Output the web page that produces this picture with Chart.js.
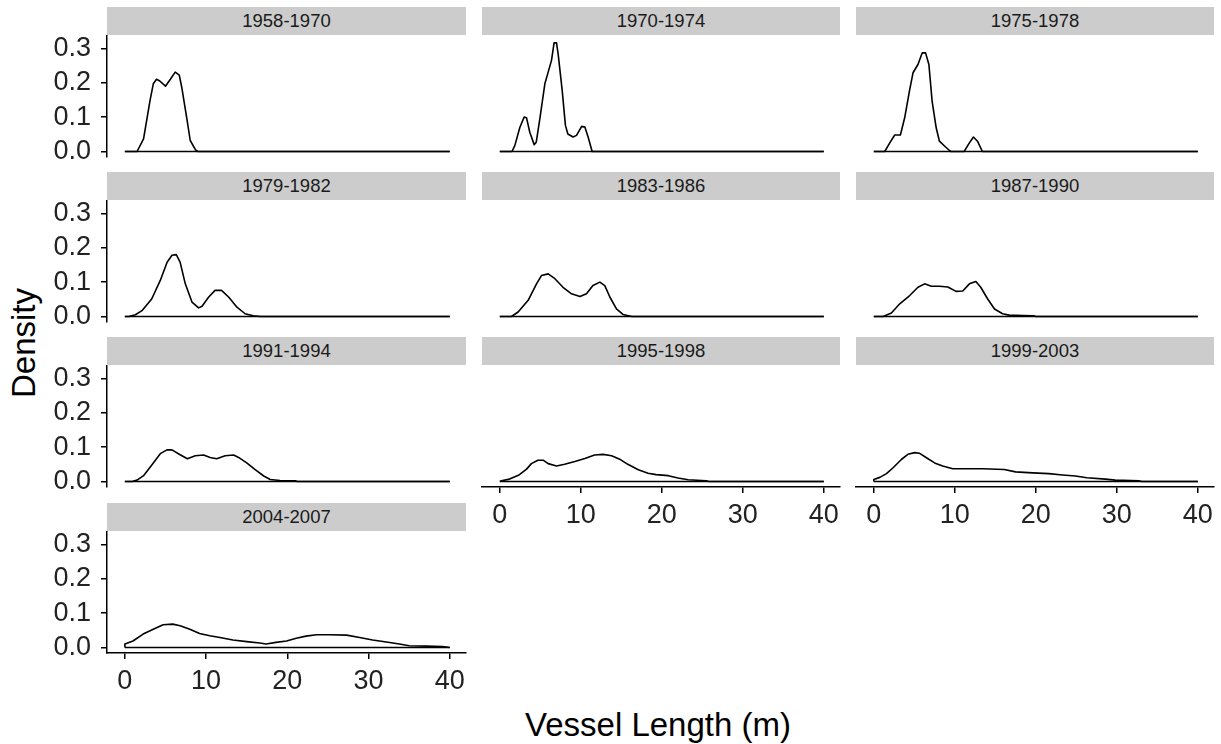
<!DOCTYPE html>
<html><head><meta charset="utf-8">
<script src="https://cdn.jsdelivr.net/npm/chart.js@4.4.1/dist/chart.umd.min.js"></script>
<style>
html,body{margin:0;padding:0;background:#fff;}
body{width:1221px;height:744px;position:relative;overflow:hidden;font-family:"Liberation Sans",Arial,sans-serif;}
.strip{position:absolute;background:#CCCCCC;color:#1A1A1A;font-size:18.5px;text-align:center;white-space:nowrap;}
canvas{position:absolute;}
.xtitle{position:absolute;left:458px;top:708px;width:400px;height:33px;line-height:33px;font-size:33px;text-align:center;color:#000;}
.ytitle{position:absolute;left:-76px;top:323px;width:200px;height:40px;line-height:40px;font-size:33px;text-align:center;color:#000;transform:rotate(-90deg);}
</style></head><body>
<div class="xtitle">Vessel Length (m)</div>
<div class="ytitle">Density</div>
<script>
// ---- data ----
const periods = ["1958-1970","1970-1974","1975-1978","1979-1982","1983-1986","1987-1990","1991-1994","1995-1998","1999-2003","2004-2007"];
const xTicks = [0, 10, 20, 30, 40];
const yTicks = [0.0, 0.1, 0.2, 0.3];
const baselineX = [0, 40];

const len_1958_1970 = [0,1.5,2.3,3.1,3.5,3.9,4.3,5.0,5.6,6.2,6.7,7.0,7.6,8.05,8.7,9.0,40];
const dens_1958_1970 = [0,0,0.037,0.149,0.197,0.21,0.205,0.19,0.21,0.231,0.222,0.187,0.10,0.032,0.005,0,0];

const len_1970_1974 = [0,1.5,1.85,2.47,3.0,3.3,3.7,4.24,4.5,4.94,5.56,5.97,6.38,6.7,7.0,7.2,7.7,8.1,8.4,9.05,9.47,10.1,10.5,10.9,11.4,40];
const dens_1970_1974 = [0,0,0.017,0.07,0.10,0.098,0.056,0.02,0.027,0.095,0.197,0.231,0.265,0.316,0.316,0.284,0.178,0.076,0.051,0.042,0.047,0.073,0.071,0.042,0,0];

const len_1975_1978 = [0,1.35,1.97,2.58,3.28,3.81,4.43,4.84,5.45,5.98,6.39,6.8,7.2,7.7,8.1,8.73,9.34,9.5,11.15,11.8,12.3,12.8,13.4,40];
const dens_1975_1978 = [0,0,0.025,0.048,0.048,0.098,0.18,0.229,0.253,0.287,0.287,0.253,0.146,0.069,0.03,0.016,0.003,0,0,0.025,0.042,0.03,0,0];

const len_1979_1982 = [0,0.5,1.3,2.1,3.3,4.36,5.2,5.8,6.33,6.8,7.44,8.26,9.08,9.5,10.3,11.1,11.9,12.8,13.8,14.8,15.8,16.7,40];
const dens_1979_1982 = [0,0,0.005,0.017,0.051,0.105,0.158,0.178,0.18,0.158,0.095,0.042,0.025,0.03,0.056,0.076,0.076,0.056,0.027,0.008,0.002,0,0];

const len_1983_1986 = [0,1.44,2.26,3.5,4.53,5.14,5.97,6.8,7.8,8.85,9.9,10.7,11.5,12.35,12.96,13.6,14.4,15.2,16.3,40];
const dens_1983_1986 = [0,0,0.013,0.047,0.095,0.119,0.124,0.11,0.085,0.066,0.058,0.066,0.09,0.1,0.09,0.056,0.022,0.006,0,0];

const len_1987_1990 = [0,1.15,2.17,3.2,4.43,5.45,6.27,7.1,8.1,9.14,10.16,10.98,11.8,12.6,13.2,14.06,14.9,15.9,16.7,18.4,19.75,20.0,40];
const dens_1987_1990 = [0,0,0.01,0.037,0.061,0.085,0.095,0.088,0.088,0.086,0.073,0.074,0.095,0.102,0.085,0.051,0.022,0.008,0.004,0.003,0.002,0,0];

const len_1991_1994 = [0,0.9,1.5,2.3,3.34,4.36,5.18,5.8,6.8,7.7,8.67,9.7,10.5,11.3,12.35,13.4,14.0,15.0,16.0,17.1,17.9,19.1,21.0,21.2,40];
const dens_1991_1994 = [0,0,0.004,0.017,0.049,0.081,0.092,0.092,0.078,0.066,0.075,0.077,0.07,0.066,0.075,0.077,0.07,0.054,0.035,0.016,0.006,0.003,0.002,0,0];

const len_1995_1998 = [0,0.2,1.2,2.3,3.3,3.9,4.7,5.35,5.97,7.0,8.0,9.26,10.5,11.7,12.76,13.8,14.8,15.8,17.1,18.3,19.3,20.8,22.0,23.25,25.5,25.8,40];
const dens_1995_1998 = [0,0.002,0.007,0.018,0.036,0.052,0.062,0.062,0.052,0.045,0.05,0.058,0.067,0.077,0.079,0.075,0.065,0.05,0.034,0.024,0.02,0.017,0.01,0.005,0.002,0,0];

const len_1999_2003 = [0,0,0.74,1.56,2.38,3.4,4.2,5.04,5.66,6.5,7.5,8.5,9.75,11.4,13.4,16.1,17.5,19.6,21.6,23.3,24.9,26.3,28.6,29.8,32.7,33.1,40];
const dens_1999_2003 = [0,0.006,0.012,0.023,0.04,0.064,0.079,0.084,0.082,0.069,0.054,0.045,0.037,0.037,0.037,0.035,0.028,0.025,0.023,0.019,0.016,0.011,0.007,0.004,0.002,0,0];

const len_2004_2007 = [0,0,1.0,2.25,3.5,4.7,5.9,6.8,8.0,9.2,10.45,11.7,13.3,15.0,16.6,17.4,18.6,19.9,21.1,22.3,23.6,25.2,27.3,28.9,30.5,32.2,33.8,35.0,37.1,39.1,40];
const dens_2004_2007 = [0,0.01,0.019,0.039,0.053,0.066,0.068,0.063,0.053,0.041,0.034,0.029,0.022,0.017,0.013,0.01,0.015,0.019,0.027,0.033,0.037,0.037,0.036,0.029,0.022,0.016,0.01,0.005,0.004,0.003,0];

const lengths = [len_1958_1970,len_1970_1974,len_1975_1978,len_1979_1982,len_1983_1986,len_1987_1990,len_1991_1994,len_1995_1998,len_1999_2003,len_2004_2007];
const densities = [dens_1958_1970,dens_1970_1974,dens_1975_1978,dens_1979_1982,dens_1983_1986,dens_1987_1990,dens_1991_1994,dens_1995_1998,dens_1999_2003,dens_2004_2007];

// ---- layout ----
const FONT = '"Liberation Sans", Arial, sans-serif';
const colLeft = [107, 482, 856];
const colW = [359, 358, 358];
const rowTop = [36, 201, 366, 532];
const panelH = 121;
const bottomPanels = [7, 8, 9];

function addPanel(i) {
  const r = Math.floor(i / 3), c = i % 3;
  const L = colLeft[c], T = rowTop[r], W = colW[c], H = panelH;
  const hasY = c === 0, hasX = bottomPanels.includes(i);
  const padTop = 20, padSide = 10;
  const cLeft = hasY ? 0 : L - padSide;
  const padLeft = hasY ? 0 : padSide;
  const xAxisH = hasX ? 60 : 0;
  const padBottom = hasX ? 5 : 20;
  const cTop = T - padTop;
  const cW = (L + W + padSide) - cLeft;
  const cH = padTop + H + xAxisH + padBottom;

  const strip = document.createElement('div');
  strip.className = 'strip';
  strip.style.left = L + 'px'; strip.style.top = (T - 29) + 'px';
  strip.style.width = W + 'px'; strip.style.height = '28px'; strip.style.lineHeight = '28px';
  strip.textContent = periods[i];
  document.body.appendChild(strip);

  const cv = document.createElement('canvas');
  cv.width = cW; cv.height = cH;
  cv.style.left = cLeft + 'px'; cv.style.top = cTop + 'px';
  cv.style.width = cW + 'px'; cv.style.height = cH + 'px';
  document.body.appendChild(cv);

  const xs = lengths[i], ys = densities[i];
  new Chart(cv.getContext('2d'), {
    type: 'line',
    data: {
      datasets: [
        { data: xs.map((x, k) => ({ x: x, y: ys[k] })), borderColor: '#000', borderWidth: 1.6, pointRadius: 0, fill: false, tension: 0, borderJoinStyle: 'round' },
        { data: baselineX.map(x => ({ x: x, y: 0 })), borderColor: '#000', borderWidth: 1.6, pointRadius: 0, fill: false }
      ]
    },
    options: {
      responsive: false, animation: false, devicePixelRatio: 1,
      layout: { padding: { left: padLeft, right: padSide, top: padTop, bottom: padBottom } },
      plugins: { legend: { display: false }, tooltip: { enabled: false } },
      events: [],
      scales: {
        x: {
          type: 'linear', min: -2.2, max: 42, display: hasX,
          afterBuildTicks: s => { s.ticks = xTicks.map(v => ({ value: v })); },
          afterFit: s => { if (hasX) { s.height = xAxisH; s.paddingLeft = 0; s.paddingRight = 0; } },
          grid: { display: true, drawOnChartArea: false, drawTicks: true, tickLength: 6, color: '#000', lineWidth: 1.5 },
          border: { display: true, color: '#000', width: 1.5 },
          ticks: { padding: 6, color: '#222', font: { family: FONT, size: 27 }, maxRotation: 0, autoSkip: false, callback: v => String(v) }
        },
        y: {
          type: 'linear', min: -0.016, max: 0.336, display: hasY,
          afterBuildTicks: s => { s.ticks = yTicks.map(v => ({ value: v })); },
          afterFit: s => { if (hasY) { s.width = L; s.paddingTop = 0; s.paddingBottom = 0; } },
          grid: { display: true, drawOnChartArea: false, drawTicks: true, tickLength: 6, color: '#000', lineWidth: 1.5 },
          border: { display: true, color: '#000', width: 1.5 },
          ticks: { padding: 10, color: '#222', font: { family: FONT, size: 27 }, autoSkip: false, callback: v => Number(v).toFixed(1) }
        }
      }
    }
  });
}
for (let i = 0; i < periods.length; i++) addPanel(i);
</script>
</body></html>
